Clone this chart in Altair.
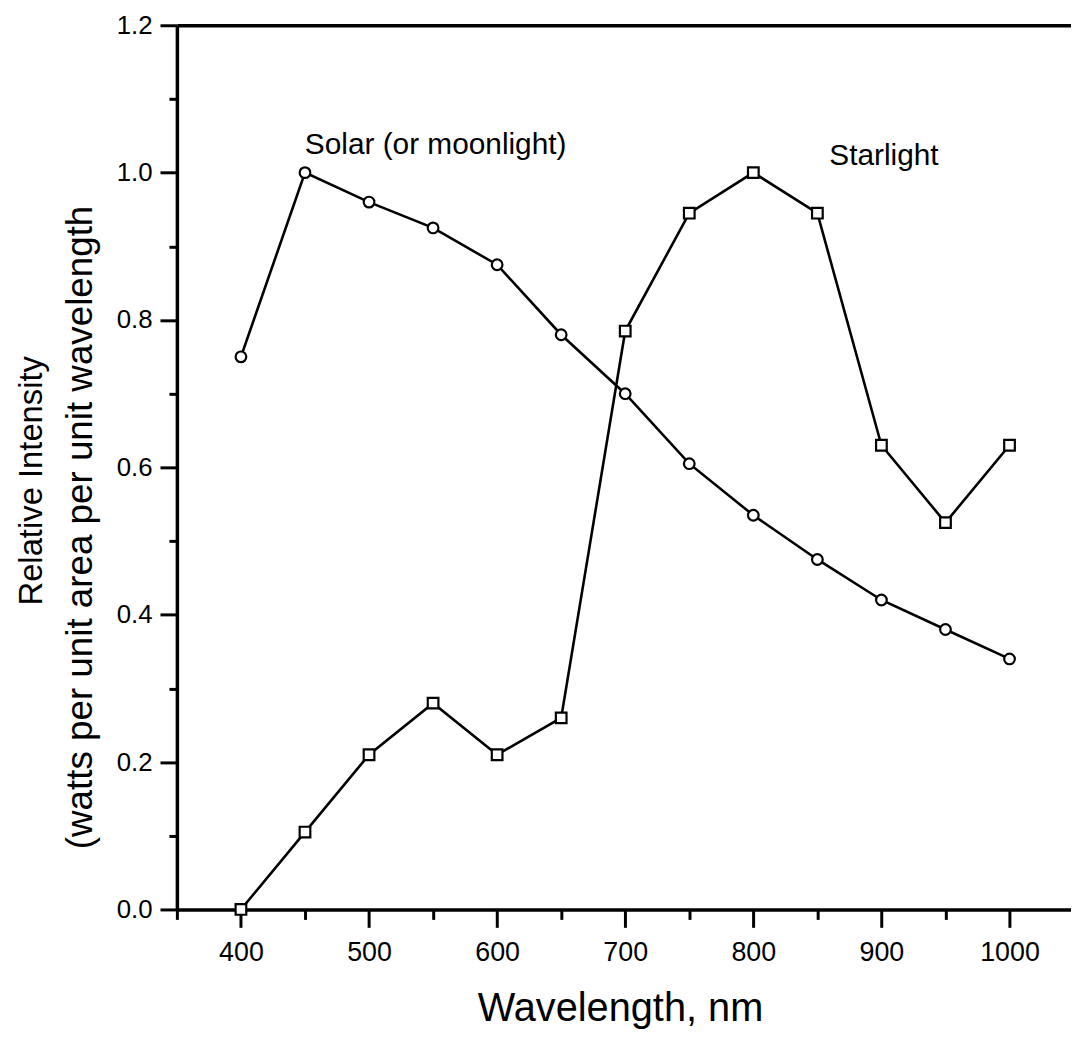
import altair as alt
import pandas as pd

# ---- data ----
wavelength = [400, 450, 500, 550, 600, 650, 700, 750, 800, 850, 900, 950, 1000]
solar = [0.75, 1.00, 0.96, 0.925, 0.875, 0.78, 0.70, 0.605, 0.535, 0.475, 0.42, 0.38, 0.34]
starlight = [0.0, 0.105, 0.21, 0.28, 0.21, 0.26, 0.785, 0.945, 1.0, 0.945, 0.63, 0.525, 0.63]
series_keys = ["Solar", "Starlight"]
series_labels = ["Solar (or moonlight)", "Starlight"]
label_wavelength = [552, 902]
label_intensity = [1.025, 1.01]

x_major = [400, 500, 600, 700, 800, 900, 1000]
x_minor = [350, 450, 550, 650, 750, 850, 950]
y_major = [0.0, 0.2, 0.4, 0.6, 0.8, 1.0, 1.2]
y_minor = [0.1, 0.3, 0.5, 0.7, 0.9, 1.1]

df = pd.DataFrame({
    "wavelength": wavelength + wavelength,
    "intensity": solar + starlight,
    "series": [series_keys[0]] * len(wavelength) + [series_keys[1]] * len(wavelength),
})
lab = pd.DataFrame({
    "wavelength": label_wavelength,
    "intensity": label_intensity,
    "text": series_labels,
})

FONT = "Liberation Sans"
xscale = alt.Scale(domain=[350, 1048], nice=False, zero=False)
yscale = alt.Scale(domain=[0, 1.2], nice=False, zero=False)

lines = alt.Chart(df).mark_line(color="black", strokeWidth=2.6).encode(
    x=alt.X("wavelength:Q", scale=xscale, axis=alt.Axis(
        orient="bottom", values=x_major, format="d", grid=False,
        tickSize=18, tickWidth=3, tickColor="black",
        domainWidth=3.5, domainColor="black",
        labelFontSize=27, labelFont=FONT, labelColor="black", labelPadding=12,
        labelFlush=False, labelOverlap=False,
        title="Wavelength, nm", titleFontSize=40, titleFont=FONT,
        titleFontWeight="normal", titleColor="black",
        titleX=446, titleY=112, titleBaseline="alphabetic", titleAlign="center")),
    y=alt.Y("intensity:Q", scale=yscale, axis=alt.Axis(
        orient="left", values=y_major, format=".1f", grid=False,
        tickSize=17, tickWidth=3, tickColor="black",
        domainWidth=3.5, domainColor="black",
        labelFontSize=26, labelFont=FONT, labelColor="black", labelPadding=8,
        labelFlush=False, labelOverlap=False,
        title="Relative Intensity", titleFontSize=33, titleFont=FONT,
        titleFontWeight="normal", titleColor="black",
        titleAngle=270, titleX=-136, titleY=458,
        titleBaseline="alphabetic", titleAlign="center")),
    detail="series:N",
)

points = alt.Chart(df).mark_point(
    filled=True, fill="white", stroke="black", strokeWidth=2.2, size=115, opacity=1
).encode(
    x=alt.X("wavelength:Q", scale=xscale, axis=alt.Axis(
        orient="top", ticks=False, labels=False, grid=False,
        domain=True, domainWidth=3.5, domainColor="black", title="")),
    y=alt.Y("intensity:Q", scale=yscale, axis=None),
    shape=alt.Shape("series:N", scale=alt.Scale(domain=series_keys, range=["circle", "square"]), legend=None),
)

labels = alt.Chart(lab).mark_text(
    font=FONT, fontSize=30, align="center", baseline="alphabetic", color="black"
).encode(
    x=alt.X("wavelength:Q", scale=xscale, axis=alt.Axis(
        orient="bottom", values=x_minor, grid=False, labels=False, domain=False,
        tickSize=10, tickWidth=3, tickColor="black", title="")),
    y=alt.Y("intensity:Q", scale=yscale, axis=alt.Axis(
        orient="left", values=y_minor, grid=False, labels=False, domain=False,
        tickSize=8, tickWidth=3, tickColor="black",
        title="(watts per unit area per unit wavelength", titleFontSize=37, titleFont=FONT,
        titleFontWeight="normal", titleColor="black",
        titleAngle=270, titleX=-86, titleY=505,
        titleBaseline="alphabetic", titleAlign="center")),
    text="text:N",
)

chart = alt.layer(lines, points, labels).resolve_axis(
    x="independent", y="independent"
).properties(
    width=900, height=890,
    autosize=alt.AutoSizeParams(type="none"),
    padding={"left": 170, "top": 14, "right": 0, "bottom": 124},
    background="white",
).configure_view(strokeWidth=0)

chart.save("out.html", embed_options={"renderer": "svg", "actions": False})
